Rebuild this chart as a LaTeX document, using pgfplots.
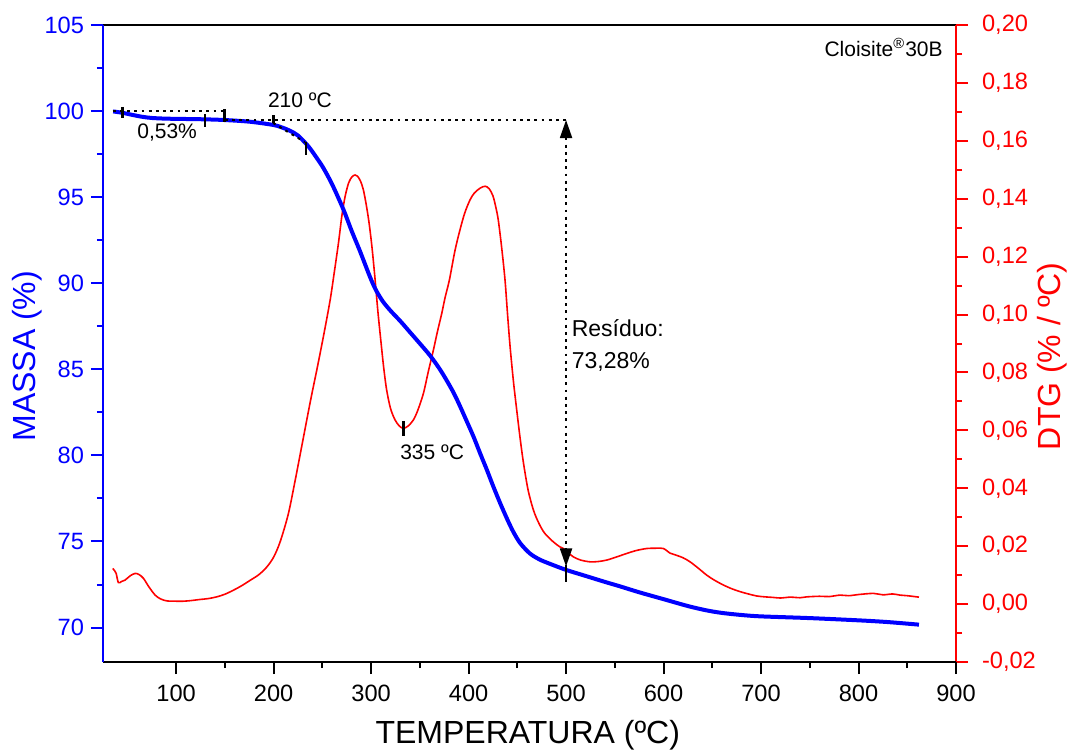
\documentclass[border=0pt]{standalone}
\usepackage{fontspec}
\setmainfont{Liberation Sans}
\usepackage{pgfplots}
\pgfplotsset{compat=1.18}
\usetikzlibrary{arrows.meta}
\definecolor{myblue}{RGB}{0,0,255}
\definecolor{myred}{RGB}{255,0,0}
\tikzset{
  dotline/.style={black, line width=1pt, dash pattern=on 1.4pt off 2.2pt},
  tk/.style={black, line width=1.4pt},
  ann/.style={font=\fontsize{10.5}{12}\selectfont, text=black},
}
\begin{document}
\begin{tikzpicture}
\useasboundingbox (-51.5pt,-44.5pt) rectangle (484.5pt,331pt);
\pgfplotsset{
  base/.style={scale only axis, width=426.5pt, height=318.5pt,
    xmin=25, xmax=900, at={(0,0)}, anchor=south west,
    tick align=outside, major tick length=6pt, minor tick length=3pt,
    /pgf/number format/assume math mode=true,
    tick label style={font=\fontsize{11.8}{13}\selectfont},
    label style={font=\fontsize{16}{19}\selectfont},
    axis line style={-},
  },
}
% ---------- DTG (right, red) ----------
\begin{axis}[base,
  axis y line*=right, axis x line*=top,
  x axis line style={black, line width=0.8pt},
  xtick=\empty, ytick pos=right,
  ymin=-0.02, ymax=0.2,
  ytick={-0.02,0,0.02,0.04,0.06,0.08,0.1,0.12,0.14,0.16,0.18,0.2},
  minor y tick num=1,
  y axis line style={myred, line width=1.1pt},
  y tick style={myred, line width=1pt},
  y tick label style={color=myred, xshift=3.5pt,
    /pgf/number format/.cd, fixed, fixed zerofill, precision=2, use comma},
  ylabel={DTG (\% / ºC)},
  ylabel style={color=myred, at={(axis description cs:1.1125,0.48)}, anchor=center},
]
\addplot[myred, line width=0.8pt, smooth] coordinates {
(35,0.0123) (37,0.0115) (38.5,0.0106) (40.8,0.0074) (44,0.0078) (47.7,0.0083)
(53,0.0098) (58,0.0106) (62,0.0102) (66.5,0.0089) (72,0.006) (78.5,0.0031)
(84,0.0018) (90.5,0.0011) (100,0.0010) (107.5,0.0010) (115,0.0012) (124.6,0.0016)
(133,0.0019) (141.7,0.0025) (150,0.0034) (158.8,0.0048) (167,0.0063) (175.9,0.0082)
(185,0.0102) (193,0.0128) (200,0.0162) (206.7,0.0215) (215,0.031) (222,0.0425)
(230,0.0565) (238,0.0705) (245,0.082) (252,0.094) (258,0.105) (262,0.114)
(266.5,0.1246) (270,0.134) (273.3,0.1407) (277,0.1455) (280.5,0.1476) (283.6,0.1482)
(286,0.1478) (289,0.1462) (292,0.1432) (295,0.138) (298,0.1315) (301,0.123)
(304,0.1125) (307,0.101) (310,0.091) (313,0.0815) (316,0.0739) (320,0.0675) (324.6,0.0636)
(329,0.0615) (333.1,0.0607) (338,0.0615) (343.4,0.0636) (348,0.067) (353.7,0.0728)
(358.5,0.080) (363.9,0.0877) (368,0.094) (372.5,0.1004) (376,0.106) (380.3,0.1119)
(386,0.122) (391,0.129) (396,0.135) (401.5,0.1396) (406,0.142) (412,0.1437)
(417,0.1443) (421,0.1435) (425,0.141) (428,0.137) (430.5,0.1326) (434,0.123)
(437.4,0.1119) (440,0.100) (442.6,0.0889) (446,0.077) (449.4,0.067) (452.8,0.0575)
(456.2,0.049) (461,0.0395) (466.5,0.0325) (472,0.028) (478,0.0245)
(486.9,0.0215) (493.5,0.0198) (497.2,0.0192) (502,0.0178) (507.5,0.0163) (515,0.0152)
(524.6,0.0146) (533,0.0147) (541.7,0.0152) (552,0.0163) (562.3,0.0175) (572,0.0185)
(582.8,0.0192) (592,0.0193) (599.8,0.0192) (606.7,0.0176) (612,0.0170) (620,0.0160)
(627.2,0.0146) (636,0.0123) (644.3,0.0100) (652,0.0083) (661.3,0.0066) (670,0.0053)
(678.5,0.0043) (687,0.0035) (695.6,0.0028) (704,0.0025) (712.6,0.0023) (720,0.0021)
(730,0.0024) (740,0.0022) (746.9,0.0025) (760,0.0027) (770,0.0026) (781,0.0031)
(790,0.0029) (800,0.0033) (815.2,0.0037) (825,0.0032) (835,0.0035) (842.6,0.0031)
(850,0.0029) (859.7,0.0025) (862,0.0024)
};
\end{axis}
% ---------- MASSA (left, blue) ----------
\begin{axis}[base,
  axis y line*=left, axis x line*=bottom,
  xtick pos=left, ytick pos=left,
  x axis line style={black, line width=1pt},
  x tick style={black, line width=1pt},
  x tick label style={yshift=-2pt},
  xtick={100,200,...,900}, minor x tick num=1,
  ymin=68, ymax=105,
  ytick={70,75,...,105}, minor y tick num=1,
  y axis line style={myblue, line width=1.1pt},
  y tick style={myblue, line width=1pt},
  y tick label style={color=myblue},
  xlabel={TEMPERATURA (ºC)},
  xlabel style={at={(axis description cs:0.498,-0.1146)}, anchor=center},
  ylabel={MASSA (\%)},
  ylabel style={color=myblue, at={(axis description cs:-0.089,0.48)}, anchor=center},
]
\addplot[myblue, line width=2pt, smooth] coordinates {
(35.5,99.98) (45,99.9) (55,99.78) (65,99.67) (75,99.6) (90,99.56) (110,99.54)
(130,99.52) (150,99.48) (176,99.38) (200,99.19) (210,99.02) (217,98.85) (225,98.58)
(235.7,97.95) (244.6,97.25) (251,96.7) (260,95.75) (271.5,94.3) (280,93.05)
(288.7,91.85) (299,90.35) (305,89.6) (312,88.95) (320,88.4) (330,87.8) (340,87.15)
(350,86.5) (360.5,85.8) (370,85.05) (377.6,84.35) (385,83.6) (391.3,82.85) (398,82.0)
(405,81.1) (412,80.1) (418.7,79.17) (425,78.25) (432.3,77.24) (440,76.25) (446,75.55)
(453,74.9) (463,74.3) (473,73.95) (483.6,73.7) (500,73.35) (520,73.0) (540,72.65)
(555,72.4) (575,72.05) (600,71.65) (625,71.25) (644,71.0) (660,70.85) (680,70.73)
(700,70.65) (750,70.55) (800,70.42) (830,70.32) (862,70.17)
};
% annotations
\draw[dotline] (35,100.0) -- (150,100.0);
\draw[dotline] (150,99.48) -- (500,99.48);
\draw[dotline] (199.5,99.31) -- (232,98.2);
\draw[dotline, {Triangle[width=6pt,length=9pt]}-{Triangle[width=6pt,length=9pt]}] (500,99.48) -- (500,73.55);
\draw[tk] (44.6,100.24) -- (44.6,99.6);
\draw[tk] (129.7,99.83) -- (129.7,99.07);
\draw[tk] (150,100.1) -- (150,99.37);
\draw[tk] (199.5,99.77) -- (199.5,99.3);
\draw[tk] (233.3,98.2) -- (233.3,97.45);
\draw[tk] (500,73.66) -- (500,72.67);
\draw[tk] (333,82.0) -- (333,81.14);
\node[ann] at (90.8,98.73) {0,53\%};
\node[ann] at (227,100.6) {210 ºC};
\node[ann] at (362.6,80.2) {335 ºC};
\node[ann, anchor=west, align=left, inner sep=0pt, font=\fontsize{11.5}{16}\selectfont] at (505.5,86.37) {Resíduo:\\73,28\%};
\node[ann, anchor=east, inner sep=0pt] at (886.7,103.7) {Cloisite\textsuperscript{®}30B};
\end{axis}
\end{tikzpicture}
\end{document}
